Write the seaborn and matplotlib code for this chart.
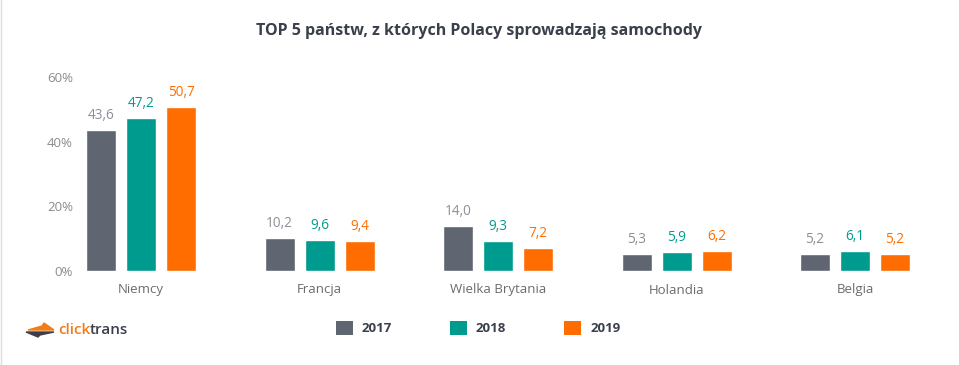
import pandas as pd
import matplotlib.pyplot as plt
import seaborn as sns
from matplotlib.patches import Patch, Polygon

# data
countries = ['Niemcy', 'Francja', 'Wielka Brytania', 'Holandia', 'Belgia']
years = ['2017', '2018', '2019']
share_2017 = [43.6, 10.2, 14.0, 5.3, 5.2]
share_2018 = [47.2, 9.6, 9.3, 5.9, 6.1]
share_2019 = [50.7, 9.4, 7.2, 6.2, 5.2]
y_ticks = [0, 20, 40, 60]

bar_colors = ['#5f6571', '#009b8f', '#ff6d00']
label_colors = ['#8a8f99', '#009b8f', '#ff6d00']

df = pd.DataFrame({
    'kraj': countries * 3,
    'rok': [y for y in years for _ in countries],
    'udzial': share_2017 + share_2018 + share_2019,
})

sns.set_style('white')
plt.rcParams['font.family'] = ['Open Sans', 'DejaVu Sans']

fig = plt.figure(figsize=(9.59, 3.65), dpi=100)
ax = fig.add_axes([80 / 959, 94 / 365, 850 / 959, 194 / 365])

sns.barplot(data=df, x='kraj', y='udzial', hue='rok', order=countries,
            hue_order=years, palette=bar_colors, width=0.672, gap=0.25,
            saturation=1, legend=False, ax=ax)

# value labels above bars, coloured per year
for cont, col in zip(ax.containers, label_colors):
    labels = [f'{v:.1f}'.replace('.', ',') for v in cont.datavalues]
    ax.bar_label(cont, labels=labels, padding=5, color=col, fontsize=9.8)

ax.set_xlim(-0.342, 4.42)
ax.set_ylim(0, 60)
ax.set_yticks(y_ticks)
ax.set_yticklabels([f'{t}%' for t in y_ticks])
ax.set_xlabel('')
ax.set_ylabel('')
ax.tick_params(axis='y', length=0, pad=5, labelsize=9.5, labelcolor='#8c8c8c')
ax.tick_params(axis='x', length=0, pad=9, labelsize=9.5, labelcolor='#6b6b6b')
sns.despine(ax=ax, left=True, bottom=True)

fig.text(0.5, 1 - 31 / 365, 'TOP 5 państw, z których Polacy sprowadzają samochody',
         ha='center', va='center', fontsize=11.5, fontweight='bold', color='#3a3f4b')

# legend
handles = [Patch(facecolor=c, edgecolor='none', label=y) for c, y in zip(bar_colors, years)]
leg = fig.legend(handles=handles, loc='center left', bbox_to_anchor=(329 / 959, 1 - 328 / 365),
                 ncol=3, frameon=False, handlelength=1.3, handleheight=1.3,
                 handletextpad=0.7, columnspacing=4.35, borderpad=0,
                 prop={'size': 9.5, 'weight': 'bold'})
for t in leg.get_texts():
    t.set_color('#3a3f4b')

# clicktrans logo
W, H = 959, 365
logo = Polygon([(28 / W, 1 - 330 / H), (42 / W, 1 - 326 / H), (44 / W, 1 - 323 / H),
                (54 / W, 1 - 330 / H)],
               closed=True, transform=fig.transFigure, color='#f07c1a')
logo2 = Polygon([(26 / W, 1 - 332 / H), (54 / W, 1 - 332 / H), (40 / W, 1 - 335 / H),
                 (38 / W, 1 - 337 / H)],
                closed=True, transform=fig.transFigure, color='#3a3f4b')
fig.add_artist(logo)
fig.add_artist(logo2)
tx = fig.text(58 / W, 1 - 330 / H, 'click', color='#f07c1a', fontsize=11,
              fontweight='semibold', va='center')
fig.canvas.draw()
bb = tx.get_window_extent()
fig.text(bb.x1 / W, 1 - 330 / H, 'trans', color='#3a3f4b', fontsize=11,
         fontweight='semibold', va='center')

fig.add_artist(plt.Line2D([0.5 / W, 0.5 / W], [0, 1], transform=fig.transFigure,
                          color='#dddddd', lw=1))

fig.savefig('out.png', dpi=100)
